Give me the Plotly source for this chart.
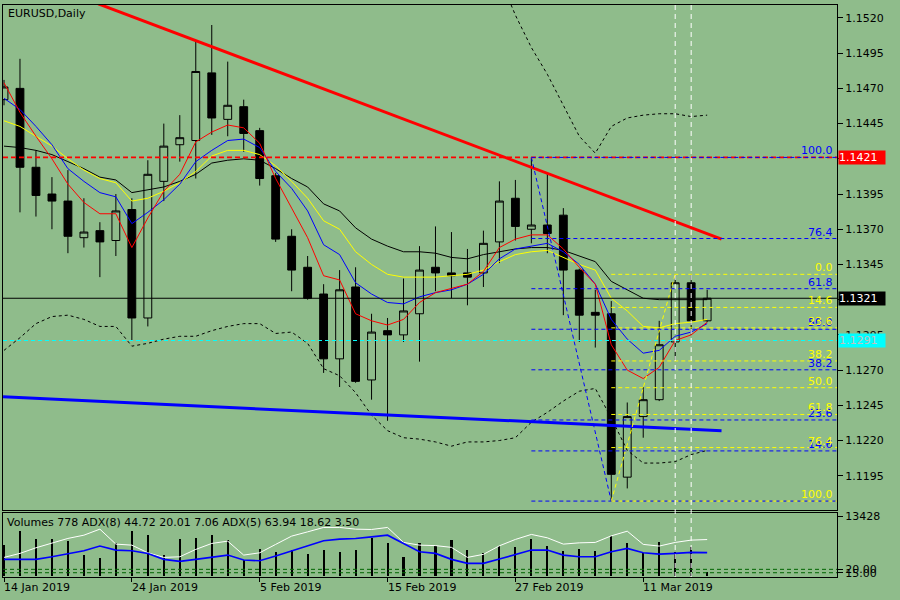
import plotly.graph_objects as go

# ---------------- data ----------------
tick_idx = [0, 8, 16, 24, 32, 40]
tick_labels = ["14 Jan 2019", "24 Jan 2019", "5 Feb 2019", "15 Feb 2019", "27 Feb 2019", "11 Mar 2019"]

opens = [1.1462, 1.1470, 1.1414, 1.1395, 1.1390, 1.1364, 1.1369, 1.1362, 1.1384, 1.1307,
         1.1404, 1.1430, 1.1433, 1.1481, 1.1448, 1.1457, 1.1440, 1.1408, 1.1365, 1.1343,
         1.1324, 1.1278, 1.1329, 1.1263, 1.1298, 1.1295, 1.1310, 1.1343, 1.1339, 1.1339,
         1.1339, 1.1361, 1.1392, 1.1370, 1.1373, 1.1380, 1.1341, 1.1311, 1.1310, 1.1194,
         1.1237, 1.1249, 1.1290, 1.1332, 1.1305]
highs = [1.1476, 1.1491, 1.1426, 1.1407, 1.1412, 1.1392, 1.1375, 1.1395, 1.1392, 1.1419,
         1.1445, 1.1451, 1.1504, 1.1515, 1.1489, 1.1462, 1.1442, 1.1410, 1.1370, 1.1351,
         1.1331, 1.1341, 1.1343, 1.1310, 1.1307, 1.1335, 1.1358, 1.1372, 1.1368, 1.1356,
         1.1369, 1.1404, 1.1405, 1.1421, 1.1410, 1.1385, 1.1342, 1.1327, 1.1319, 1.1247,
         1.1258, 1.1305, 1.1338, 1.1338, 1.1327]
lows = [1.1458, 1.1382, 1.1379, 1.1370, 1.1353, 1.1357, 1.1336, 1.1351, 1.1291, 1.1301,
        1.1390, 1.1418, 1.1406, 1.1437, 1.1436, 1.1425, 1.1401, 1.1361, 1.1326, 1.1320,
        1.1268, 1.1258, 1.1261, 1.1249, 1.1234, 1.1290, 1.1276, 1.1326, 1.1321, 1.1316,
        1.1329, 1.1346, 1.1362, 1.1360, 1.1353, 1.1309, 1.1290, 1.1286, 1.1177, 1.1186,
        1.1222, 1.1248, 1.1277, 1.1295, 1.1304]
closes = [1.1471, 1.1414, 1.1394, 1.1390, 1.1365, 1.1368, 1.1361, 1.1383, 1.1307, 1.1409,
          1.1429, 1.1435, 1.1482, 1.1449, 1.1458, 1.1438, 1.1406, 1.1363, 1.1341, 1.1321,
          1.1278, 1.1327, 1.1262, 1.1297, 1.1295, 1.1312, 1.1341, 1.1339, 1.1337, 1.1336,
          1.1360, 1.1390, 1.1372, 1.1373, 1.1367, 1.1341, 1.1309, 1.1309, 1.1196, 1.1237,
          1.1249, 1.1288, 1.1332, 1.1305, 1.1321]

ma_red = [1.1474, 1.1453, 1.1436, 1.1420, 1.1402, 1.1389, 1.1381, 1.1381, 1.1357, 1.1378,
          1.1397, 1.1409, 1.1432, 1.1439, 1.1444, 1.1442, 1.1431, 1.1406, 1.1385, 1.1364,
          1.1337, 1.1334, 1.1310, 1.1305, 1.1302, 1.1306, 1.1318, 1.1325, 1.1328, 1.1331,
          1.1340, 1.1357, 1.1363, 1.1366, 1.1366, 1.1356, 1.1343, 1.1331, 1.1288, 1.1270,
          1.1264, 1.1272, 1.1291, 1.1295, 1.1304]
ma_blue = [1.1463, 1.1455, 1.1443, 1.1430, 1.1413, 1.1404, 1.1396, 1.1393, 1.1374, 1.1382,
           1.1391, 1.1402, 1.1418, 1.1426, 1.1433, 1.1434, 1.1428, 1.1411, 1.1399, 1.1383,
           1.1359, 1.1352, 1.1332, 1.1324, 1.1318, 1.1317, 1.1322, 1.1325, 1.1327, 1.1331,
           1.1338, 1.1349, 1.1356, 1.1358, 1.1360, 1.1354, 1.1345, 1.1331, 1.1306, 1.1292,
           1.1282, 1.1284, 1.1294, 1.1297, 1.1303]
ma_yellow = [1.1447, 1.1443, 1.1436, 1.1429, 1.1420, 1.1412, 1.1406, 1.1403, 1.1390, 1.1392,
             1.1397, 1.1403, 1.1411, 1.1422, 1.1426, 1.1426, 1.1423, 1.1415, 1.1404, 1.1392,
             1.1376, 1.1370, 1.1354, 1.1345, 1.1338, 1.1336, 1.1336, 1.1336, 1.1337, 1.1338,
             1.1341, 1.1347, 1.1352, 1.1354, 1.1355, 1.1350, 1.1345, 1.1341, 1.1321, 1.1312,
             1.1301, 1.1300, 1.1303, 1.1304, 1.1306]
ma_black = [1.1429, 1.1428, 1.1426, 1.1423, 1.1418, 1.1413, 1.1407, 1.1405, 1.1396, 1.1398,
            1.1400, 1.1404, 1.1409, 1.1417, 1.1419, 1.1420, 1.1419, 1.1413, 1.1406, 1.1400,
            1.1388, 1.1383, 1.1371, 1.1363, 1.1358, 1.1354, 1.1354, 1.1353, 1.1350, 1.1349,
            1.1352, 1.1354, 1.1356, 1.1357, 1.1357, 1.1355, 1.1351, 1.1347, 1.1333, 1.1327,
            1.1321, 1.1320, 1.1320, 1.1320, 1.1320]

band_lower = [1.1284, 1.1293, 1.1303, 1.1308, 1.1309, 1.1306, 1.1301, 1.1301, 1.1287, 1.1289,
              1.1292, 1.1294, 1.1294, 1.1298, 1.1301, 1.1303, 1.1303, 1.1296, 1.1297, 1.1289,
              1.1271, 1.1266, 1.1254, 1.1238, 1.1227, 1.1222, 1.1221, 1.1219, 1.1216, 1.1219,
              1.1219, 1.1220, 1.1222, 1.1233, 1.1240, 1.1248, 1.1255, 1.1257, 1.1236, 1.1213,
              1.1204, 1.1204, 1.1205, 1.1210, 1.1213]
band_upper_start = 31
band_upper = [1.1549, 1.1522, 1.1499, 1.1480, 1.1458, 1.1436, 1.1424, 1.1443, 1.1449, 1.1451,
              1.1452, 1.1452, 1.1450, 1.1451]

volumes = [6938, 10071, 8213, 8281, 7900, 4700, 3961, 7318, 10071, 9243,
           4700, 8281, 8572, 9243, 8057, 3581, 6043, 5438, 5819, 4924,
           5819, 5438, 5819, 8437, 7318, 4319, 7453, 6714, 8057, 5819,
           5215, 6781, 6423, 8281, 6714, 5595, 6043, 5595, 9019, 7318,
           5215, 7609, 5438, 6423, 778]
volume_max_label = 13428
adx_white = [37.6, 43.5, 51.8, 59.1, 65.6, 70.4, 79.3, 57.2, 55.7, 44.4,
             37.6, 38.5, 49.4, 58.2, 61.6, 41.0, 44.4, 56.8, 69.0, 75.3,
             81.8, 81.8, 79.3, 78.8, 81.8, 59.7, 55.7, 55.0, 52.4, 37.6,
             42.1, 54.7, 64.1, 71.5, 66.5, 57.2, 59.1, 59.7, 69.4, 76.3,
             56.8, 54.3, 59.7, 63.1, 63.94]
adx_blue = [34.7, 34.7, 34.7, 38.5, 43.5, 47.4, 54.3, 48.4, 47.4, 43.5,
            34.7, 31.8, 34.7, 37.6, 41.0, 33.7, 32.6, 39.6, 47.4, 54.3,
            62.1, 64.6, 65.6, 67.9, 70.4, 58.2, 45.9, 43.5, 34.7, 28.8,
            28.8, 35.1, 42.1, 48.4, 48.4, 41.0, 38.5, 38.5, 45.9, 50.9,
            44.4, 42.5, 43.5, 45.0, 44.72]
adx_levels = [20, 15]

# reference lines / drawn objects
level_red = 1.1421
level_cyan = 1.1291
fib_levels = [0.0, 14.6, 23.6, 38.2, 50.0, 61.8, 76.4, 100.0]
fib_blue_start, fib_blue_hi, fib_blue_lo = 33, 1.1421, 1.1177
fib_blue_labels = [14.6, 23.6, 38.2, 50.0, 61.8, 76.4, 100.0]
fib_yel_start, fib_yel_hi, fib_yel_lo = 38, 1.1338, 1.1177
fib_blue_diag = ([33, 38], [1.1421, 1.1177])
fib_yel_diag = ([38, 42], [1.1177, 1.1338])
trend_red = ([5.9, 44.9], [1.1530, 1.1363])
trend_blue = ([-0.06, 44.9], [1.1251, 1.1227])
vlines = [42, 43]

X_MIN, X_MAX = -0.0625, 52.125
Y_MIN, Y_MAX = 1.11705, 1.15292
BG = "#8FBC8B"
FONT = "DejaVu Sans"

n = len(closes)
xs = list(range(n))

fig = go.Figure()

# Bollinger-like envelope (dotted)
fig.add_trace(go.Scatter(x=xs, y=band_lower, mode="lines",
                         line=dict(color="black", width=1, dash="3px,3px")))
fig.add_trace(go.Scatter(x=xs[band_upper_start:], y=band_upper, mode="lines",
                         line=dict(color="black", width=1, dash="3px,3px")))

# candles
fig.add_trace(go.Candlestick(
    x=xs, open=opens, high=highs, low=lows, close=closes,
    increasing=dict(line=dict(color="black", width=1), fillcolor=BG),
    decreasing=dict(line=dict(color="black", width=1), fillcolor="black"),
    whiskerwidth=0, xaxis="x", yaxis="y"))

# moving averages
for arr, col in [(ma_black, "black"), (ma_yellow, "#FFFF00"), (ma_blue, "#0000FF"), (ma_red, "#FF0000")]:
    fig.add_trace(go.Scatter(x=xs, y=arr, mode="lines", line=dict(color=col, width=1)))

# trend lines
fig.add_trace(go.Scatter(x=trend_red[0], y=trend_red[1], mode="lines",
                         line=dict(color="#FF0000", width=3)))
fig.add_trace(go.Scatter(x=trend_blue[0], y=trend_blue[1], mode="lines",
                         line=dict(color="#0000FF", width=3)))
fig.add_trace(go.Scatter(x=fib_blue_diag[0], y=fib_blue_diag[1], mode="lines",
                         line=dict(color="#0000FF", width=1, dash="4px,3px")))
fig.add_trace(go.Scatter(x=fib_yel_diag[0], y=fib_yel_diag[1], mode="lines",
                         line=dict(color="#FFFF00", width=1, dash="4px,3px")))

# volume panel
fig.add_trace(go.Bar(x=xs, y=volumes, width=0.13, marker=dict(color="black", line=dict(width=0)),
                     xaxis="x2", yaxis="y2"))
fig.add_trace(go.Scatter(x=xs, y=adx_white, mode="lines", line=dict(color="white", width=1),
                         xaxis="x2", yaxis="y3"))
fig.add_trace(go.Scatter(x=xs, y=adx_blue, mode="lines", line=dict(color="#0000FF", width=1.6),
                         xaxis="x2", yaxis="y3"))

shapes = []
annotations = []

def hline(y, color, dash, x0=X_MIN, yref="y", width=1):
    shapes.append(dict(type="line", xref="x", yref=yref, x0=x0, x1=X_MAX, y0=y, y1=y,
                       line=dict(color=color, width=width, dash=dash)))

hline(level_red, "#FF0000", "5px,3px", width=1.6)
hline(level_cyan, "#00FFFF", "4px,3px")
hline(closes[-1], "black", "solid")

for lv in fib_levels:
    yb = fib_blue_lo + lv / 100.0 * (fib_blue_hi - fib_blue_lo)
    hline(yb, "#0000FF", "4px,3px", x0=fib_blue_start)
for lv in fib_levels:
    yy = fib_yel_hi - lv / 100.0 * (fib_yel_hi - fib_yel_lo)
    hline(yy, "#FFFF00", "4px,3px", x0=fib_yel_start)

for lv in fib_blue_labels:
    yb = fib_blue_lo + lv / 100.0 * (fib_blue_hi - fib_blue_lo)
    annotations.append(dict(xref="paper", x=1, xanchor="right", xshift=-2, yref="y", y=yb,
                            yanchor="bottom", yshift=-2, text=f"{lv:.1f}", showarrow=False,
                            font=dict(family=FONT, size=11, color="#0000FF")))
for lv in fib_levels:
    yy = fib_yel_hi - lv / 100.0 * (fib_yel_hi - fib_yel_lo)
    annotations.append(dict(xref="paper", x=1, xanchor="right", xshift=-2, yref="y", y=yy,
                            yanchor="bottom", yshift=-2, text=f"{lv:.1f}", showarrow=False,
                            font=dict(family=FONT, size=11, color="#FFFF00")))

for lv in adx_levels:
    shapes.append(dict(type="line", xref="x2", yref="y3", x0=X_MIN, x1=X_MAX, y0=lv, y1=lv,
                       line=dict(color="#006400", width=1, dash="4px,3px")))

for v in vlines:
    shapes.append(dict(type="line", xref="x", yref="paper", x0=v, x1=v, y0=0, y1=1,
                       line=dict(color="white", width=1, dash="5px,4px")))

# price labels on the right axis
for val, bg, fg in [(level_red, "#FF0000", "white"), (closes[-1], "black", "white"),
                    (level_cyan, "#00FFFF", "#C0C0C0")]:
    annotations.append(dict(xref="paper", x=1, xanchor="left", xshift=1, yref="y", y=val,
                            yanchor="middle", text=f"{val:.4f}", showarrow=False, bgcolor=bg,
                            width=46, height=13, align="left", borderpad=0,
                            font=dict(family=FONT, size=11, color=fg)))

# date labels (left aligned at tick)
for ti, tl in zip(tick_idx, tick_labels):
    annotations.append(dict(xref="x2", x=ti, xanchor="left", xshift=-2, yref="paper", y=0,
                            yanchor="top", yshift=-2, text=tl, showarrow=False,
                            font=dict(family=FONT, size=11, color="black")))

annotations.append(dict(xref="paper", x=0, xanchor="left", xshift=3, yref="paper", y=1,
                        yanchor="top", yshift=0, text="EURUSD,Daily", showarrow=False,
                        font=dict(family=FONT, size=11, color="black")))
annotations.append(dict(xref="paper", x=0, xanchor="left", xshift=2, yref="y2 domain", y=1,
                        yanchor="top", yshift=-1,
                        text=f"Volumes {volumes[-1]} ADX(8) 44.72 20.01 7.06 ADX(5) {adx_white[-1]:.2f} 18.62 3.50",
                        showarrow=False, font=dict(family=FONT, size=11, color="black")))

price_ticks = [round(1.1195 + 0.0025 * k, 4) for k in range(14)]

axis_common = dict(showgrid=False, zeroline=False, showline=True, linecolor="black", linewidth=1,
                   mirror=True, tickfont=dict(family=FONT, size=11, color="black"))

fig.update_layout(
    width=900, height=600,
    margin=dict(l=2, r=63, t=3, b=23),
    paper_bgcolor=BG, plot_bgcolor=BG,
    showlegend=False, hovermode=False, bargap=0,
    shapes=shapes, annotations=annotations,
    xaxis=dict(domain=[0, 1], range=[X_MIN, X_MAX], anchor="y", showticklabels=False,
               ticks="", rangeslider=dict(visible=False), **axis_common),
    yaxis=dict(domain=[0.1167, 1], range=[Y_MIN, Y_MAX], side="right", anchor="x",
               tickvals=price_ticks, tickformat=".4f", ticks="outside", ticklen=5,
               tickcolor="black", **axis_common),
    xaxis2=dict(domain=[0, 1], range=[X_MIN, X_MAX], anchor="y2", matches="x",
                tickvals=tick_idx, showticklabels=False, ticks="outside", ticklen=4,
                tickcolor="black", **axis_common),
    yaxis2=dict(domain=[0, 0.1115], range=[-200, 14100], side="right", anchor="x2",
                tickvals=[volume_max_label], ticktext=[str(volume_max_label)],
                ticks="outside", ticklen=5, tickcolor="black", **axis_common),
    yaxis3=dict(range=[8.68, 102.8], overlaying="y2", side="right", anchor="x2",
                tickvals=adx_levels, tickformat=".2f", ticks="outside", ticklen=5,
                tickcolor="black", showgrid=False, zeroline=False, showline=False,
                tickfont=dict(family=FONT, size=11, color="black")),
)

fig.write_html("out.html", config={"displayModeBar": False},
               post_script="document.body.style.margin='0px';document.body.style.overflow='hidden';")
